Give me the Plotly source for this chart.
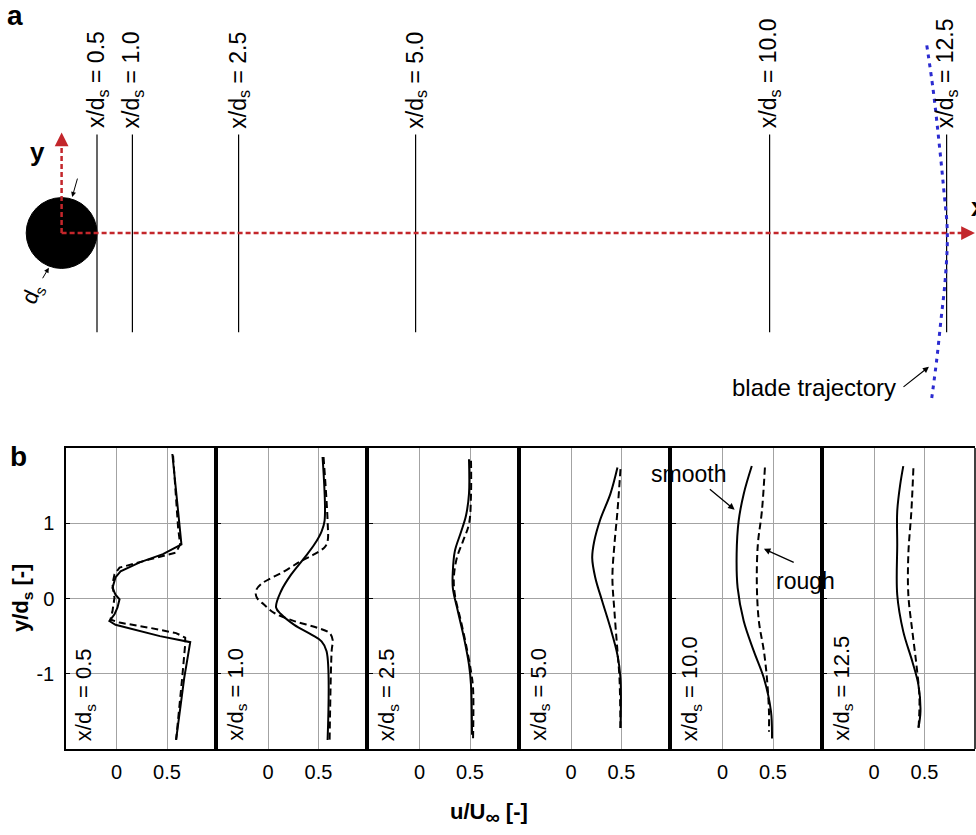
import plotly.graph_objects as go

# ---------------- data ----------------
stations = [0.5, 1.0, 2.5, 5.0, 10.0, 12.5]
station_labels = ["0.5", "1.0", "2.5", "5.0", "10.0", "12.5"]

# blade trajectory (schematic, x/d_s , y/d_s)
traj_x = [12.22, 12.31, 12.39, 12.46, 12.51, 12.48, 12.42, 12.36, 12.29]
traj_y = [2.65, 2.02, 1.31, 0.61, 0.0, -0.66, -1.23, -1.79, -2.33]

# velocity profiles (u/U_inf vs y/d_s); smooth = solid, rough = dashed
y_s1 = [1.92, 0.72, 0.59, 0.48, 0.36, 0.28, 0.14, 0.05, -0.01, -0.12, -0.21, -0.30, -0.35, -0.41, -0.50, -0.58, -1.06, -1.88]
u_s1 = [0.553, 0.643, 0.46, 0.23, 0.04, -0.01, -0.04, -0.01, 0.03, 0.01, -0.02, -0.07, -0.01, 0.16, 0.43, 0.73, 0.67, 0.59]
y_r1 = [1.90, 0.94, 0.72, 0.61, 0.52, 0.41, 0.32, 0.19, 0.01, -0.17, -0.28, -0.32, -0.39, -0.46, -0.52, -0.61, -1.06, -1.88]
u_r1 = [0.56, 0.61, 0.63, 0.59, 0.33, 0.03, -0.02, -0.04, -0.02, -0.04, -0.06, 0.03, 0.33, 0.59, 0.68, 0.68, 0.65, 0.59]

y_s2 = [1.88, 1.03, 0.89, 0.72, 0.54, 0.32, 0.10, -0.12, -0.21, -0.35, -0.48, -0.57, -0.70, -1.88]
u_s2 = [0.54, 0.56, 0.53, 0.46, 0.36, 0.23, 0.13, 0.08, 0.13, 0.26, 0.43, 0.53, 0.58, 0.59]
y_r2 = [1.88, 1.03, 0.76, 0.68, 0.59, 0.50, 0.36, 0.19, 0.10, 0.01, -0.08, -0.19, -0.30, -0.39, -0.46, -0.55, -0.70, -1.88]
u_r2 = [0.55, 0.59, 0.59, 0.56, 0.46, 0.33, 0.16, -0.07, -0.12, -0.11, -0.04, 0.06, 0.26, 0.49, 0.61, 0.64, 0.63, 0.61]

y_s3 = [1.85, 1.39, 1.10, 0.88, 0.63, 0.36, 0.14, -0.17, -0.52, -0.88, -1.15, -1.81]
u_s3 = [0.49, 0.49, 0.46, 0.41, 0.35, 0.33, 0.33, 0.38, 0.44, 0.49, 0.51, 0.52]
y_r3 = [1.83, 1.39, 0.99, 0.76, 0.54, 0.28, 0.05, -0.30, -0.61, -0.97, -1.19, -1.88]
u_r3 = [0.51, 0.51, 0.49, 0.43, 0.37, 0.34, 0.35, 0.41, 0.46, 0.51, 0.53, 0.53]

y_s4 = [1.74, 1.39, 1.05, 0.76, 0.54, 0.28, -0.04, -0.39, -0.75, -1.06, -1.72]
u_s4 = [0.46, 0.39, 0.29, 0.23, 0.21, 0.24, 0.31, 0.39, 0.46, 0.49, 0.49]
y_r4 = [1.72, 1.16, 0.72, 0.28, -0.17, -0.70, -1.06, -1.72]
u_r4 = [0.49, 0.46, 0.43, 0.41, 0.43, 0.46, 0.48, 0.49]

y_s5 = [1.76, 1.39, 1.03, 0.59, 0.14, -0.30, -0.70, -1.06, -1.50, -1.86]
u_s5 = [0.29, 0.21, 0.16, 0.14, 0.15, 0.21, 0.31, 0.41, 0.48, 0.49]
y_r5 = [1.74, 1.16, 0.72, 0.19, -0.30, -0.70, -1.06, -1.50, -1.77]
u_r5 = [0.42, 0.39, 0.35, 0.34, 0.36, 0.41, 0.44, 0.46, 0.46]

y_s6 = [1.76, 1.52, 1.16, 0.72, 0.05, -0.44, -0.84, -1.15, -1.50, -1.72]
u_s6 = [0.29, 0.26, 0.23, 0.23, 0.23, 0.29, 0.38, 0.44, 0.46, 0.44]
y_r6 = [1.73, 1.16, 0.59, 0.05, -0.44, -0.88, -1.32, -1.74]
u_r6 = [0.39, 0.37, 0.34, 0.34, 0.38, 0.42, 0.45, 0.44]

smooth_u = [u_s1, u_s2, u_s3, u_s4, u_s5, u_s6]
smooth_y = [y_s1, y_s2, y_s3, y_s4, y_s5, y_s6]
rough_u = [u_r1, u_r2, u_r3, u_r4, u_r5, u_r6]
rough_y = [y_r1, y_r2, y_r3, y_r4, y_r5, y_r6]

x_ticks = [0, 0.5]
x_ticktext = ["0", "0.5"]
y_ticks = [-1, 0, 1]
y_ticktext = ["-1", "0", "1"]

# ---------------- style ----------------
FONT = "Liberation Sans, Arial, Helvetica, sans-serif"
RED = "#c3262b"
BLUE = "#2b2bd0"
GRID = "#a3a3a3"
W, H = 976, 835

fig = go.Figure()

# ---------------- panel a (schematic) ----------------
AX, AY = "x7", "y7"
lx, ly = [], []
for s in stations:
    lx += [s, s, None]
    ly += [1.39, -1.40, None]
fig.add_trace(go.Scatter(x=lx, y=ly, mode="lines", line=dict(color="black", width=1.2),
                         xaxis=AX, yaxis=AY, showlegend=False, hoverinfo="skip"))
fig.add_trace(go.Scatter(x=[0, 12.80], y=[0, 0], mode="lines",
                         line=dict(color=RED, width=2.5, dash="5px,3px"),
                         xaxis=AX, yaxis=AY, showlegend=False, hoverinfo="skip"))
fig.add_trace(go.Scatter(x=[0, 0], y=[0, 1.25], mode="lines",
                         line=dict(color=RED, width=2.5, dash="5px,3px"),
                         xaxis=AX, yaxis=AY, showlegend=False, hoverinfo="skip"))
fig.add_trace(go.Scatter(x=traj_x, y=traj_y, mode="lines", line_shape="spline",
                         line=dict(color=BLUE, width=3, dash="4px,5px"),
                         xaxis=AX, yaxis=AY, showlegend=False, hoverinfo="skip"))

annotations = []
for s, lab in zip(stations, station_labels):
    annotations.append(dict(x=s, y=1.39, xref=AX, yref=AY, text="x/d<sub>s</sub> = " + lab,
                            showarrow=False, textangle=-90, xanchor="center", yanchor="bottom",
                            yshift=4, font=dict(size=23, color="black", family=FONT)))
annotations.append(dict(x=12.90, y=0, ax=12.78, ay=0, xref=AX, yref=AY, axref=AX, ayref=AY,
                        text="", showarrow=True, arrowhead=2, arrowsize=1.1, arrowwidth=2.5,
                        arrowcolor=RED))
annotations.append(dict(x=0, y=1.42, ax=0, ay=1.25, xref=AX, yref=AY, axref=AX, ayref=AY,
                        text="", showarrow=True, arrowhead=2, arrowsize=1.1, arrowwidth=2.5,
                        arrowcolor=RED))
annotations.append(dict(x=-0.34, y=1.14, xref=AX, yref=AY, text="<b>y</b>", showarrow=False,
                        xanchor="center", yanchor="middle",
                        font=dict(size=26, color="black", family=FONT)))
annotations.append(dict(x=12.90, y=0.37, xref=AX, yref=AY, text="<b>x</b>", showarrow=False,
                        xanchor="left", yanchor="middle", xshift=-6,
                        font=dict(size=26, color="black", family=FONT)))
annotations.append(dict(x=0.15, y=0.51, ax=0.23, ay=0.79, xref=AX, yref=AY, axref=AX, ayref=AY,
                        text="", showarrow=True, arrowhead=2, arrowsize=1, arrowwidth=1,
                        arrowcolor="black"))
annotations.append(dict(x=-0.18, y=-0.49, ax=-0.28, ay=-0.66, xref=AX, yref=AY, axref=AX, ayref=AY,
                        text="", showarrow=True, arrowhead=2, arrowsize=1, arrowwidth=1,
                        arrowcolor="black"))
annotations.append(dict(x=-0.40, y=-0.86, xref=AX, yref=AY, text="d<sub>s</sub>", showarrow=False,
                        xanchor="center", yanchor="middle", textangle=-65,
                        font=dict(size=22, color="black", family=FONT)))
annotations.append(dict(x=12.25, y=-1.89, ax=11.87, ay=-2.19, xref=AX, yref=AY, axref=AX, ayref=AY,
                        text="", showarrow=True, arrowhead=2, arrowsize=1, arrowwidth=1.2,
                        arrowcolor="black"))
annotations.append(dict(x=11.82, y=-2.18, xref=AX, yref=AY, text="blade trajectory", showarrow=False,
                        xanchor="right", yanchor="middle",
                        font=dict(size=24, color="black", family=FONT)))
annotations.append(dict(x=15 / W, y=1 - 15 / H, xref="paper", yref="paper", text="<b>a</b>",
                        showarrow=False, xanchor="center", yanchor="middle",
                        font=dict(size=28, color="black", family=FONT)))

# ---------------- panel b (profiles) ----------------
bx0 = 66 / W
bw = 151.5 / W
by0 = 1 - 749 / H
by1 = 1 - 448 / H

layout_axes = {}
for i in range(6):
    k = i + 1
    xs = "x" if k == 1 else f"x{k}"
    ys = "y" if k == 1 else f"y{k}"
    fig.add_trace(go.Scatter(x=smooth_u[i], y=smooth_y[i], mode="lines",
                             line=dict(color="black", width=2),
                             line_shape="linear" if k == 1 else "spline",
                             xaxis=xs, yaxis=ys, showlegend=False, hoverinfo="skip"))
    fig.add_trace(go.Scatter(x=rough_u[i], y=rough_y[i], mode="lines",
                             line=dict(color="black", width=2, dash="7px,4px"),
                             line_shape="linear" if k == 1 else "spline",
                             xaxis=xs, yaxis=ys, showlegend=False, hoverinfo="skip"))
    xname = "xaxis" if k == 1 else f"xaxis{k}"
    yname = "yaxis" if k == 1 else f"yaxis{k}"
    layout_axes[xname] = dict(domain=[bx0 + i * bw, bx0 + (i + 1) * bw], range=[-0.5, 1.0],
                              tickvals=x_ticks, ticktext=x_ticktext, showgrid=True,
                              gridcolor=GRID, gridwidth=1, zeroline=False, showline=True,
                              linecolor="black", linewidth=1.5, mirror=True, anchor=ys,
                              ticks="", ticklabelstandoff=4,
                              tickfont=dict(size=20, color="black", family=FONT))
    layout_axes[yname] = dict(domain=[by0, by1], range=[-2, 2], tickvals=y_ticks,
                              ticktext=y_ticktext, showticklabels=(k == 1), showgrid=True,
                              gridcolor=GRID, gridwidth=1, zeroline=False, showline=True,
                              linecolor="black", linewidth=(1.5 if k == 1 else 3.5),
                              mirror=False, anchor=xs, ticks="inside", ticklen=4,
                              tickcolor="black", ticklabelstandoff=6,
                              tickfont=dict(size=20, color="black", family=FONT))
    annotations.append(dict(x=0.13, y=0.02, xref=f"{xs} domain", yref=f"{ys} domain",
                            text="x/d<sub>s</sub> = " + station_labels[i], showarrow=False,
                            textangle=-90, xanchor="center", yanchor="bottom",
                            font=dict(size=22, color="black", family=FONT)))

shapes = [dict(type="line", xref="x6 domain", yref="y6 domain", x0=1, x1=1, y0=0, y1=1,
               line=dict(color="black", width=1.5))]
shapes.append(dict(type="circle", xref=AX, yref=AY, x0=-0.5, x1=0.5, y0=-0.5, y1=0.5,
                   fillcolor="black", line=dict(color="black", width=1), layer="below"))

annotations.append(dict(x=0.12, y=1.18, ax=-0.14, ay=1.47, xref="x5", yref="y5", axref="x5",
                        ayref="y5", text="", showarrow=True, arrowhead=2, arrowsize=1,
                        arrowwidth=1.3, arrowcolor="black"))
annotations.append(dict(x=-0.34, y=1.65, xref="x5", yref="y5", text="smooth", showarrow=False,
                        xanchor="center", yanchor="middle",
                        font=dict(size=23, color="black", family=FONT)))
annotations.append(dict(x=0.41, y=0.66, ax=0.72, ay=0.47, xref="x5", yref="y5", axref="x5",
                        ayref="y5", text="", showarrow=True, arrowhead=2, arrowsize=1,
                        arrowwidth=1.3, arrowcolor="black"))
annotations.append(dict(x=0.82, y=0.23, xref="x5", yref="y5", text="rough", showarrow=False,
                        xanchor="center", yanchor="middle",
                        font=dict(size=23, color="black", family=FONT)))

annotations.append(dict(x=22 / W, y=1 - 598 / H, xref="paper", yref="paper",
                        text="<b>y/d<sub>s</sub> [-]</b>", showarrow=False, textangle=-90,
                        xanchor="center", yanchor="middle",
                        font=dict(size=22, color="black", family=FONT)))
annotations.append(dict(x=489 / W, y=1 - 797 / H, xref="paper", yref="paper",
                        text="<b>u/U<sub><span style='font-size:20px'>∞</span></sub> [-]</b>",
                        showarrow=False, xanchor="center", yanchor="top",
                        font=dict(size=22, color="black", family=FONT)))
annotations.append(dict(x=18 / W, y=1 - 456 / H, xref="paper", yref="paper", text="<b>b</b>",
                        showarrow=False, xanchor="center", yanchor="middle",
                        font=dict(size=28, color="black", family=FONT)))

layout_axes["xaxis7"] = dict(domain=[0, 1], range=[-0.870, 12.915], visible=False, anchor="y7")
layout_axes["yaxis7"] = dict(domain=[1 - 420 / H, 1], range=[-2.641, 3.291], visible=False,
                             anchor="x7")

fig.update_layout(width=W, height=H, margin=dict(l=0, r=0, t=0, b=0),
                  paper_bgcolor="white", plot_bgcolor="white",
                  font=dict(family=FONT, color="black"),
                  annotations=annotations, shapes=shapes, **layout_axes)

fig.write_html("out.html")
